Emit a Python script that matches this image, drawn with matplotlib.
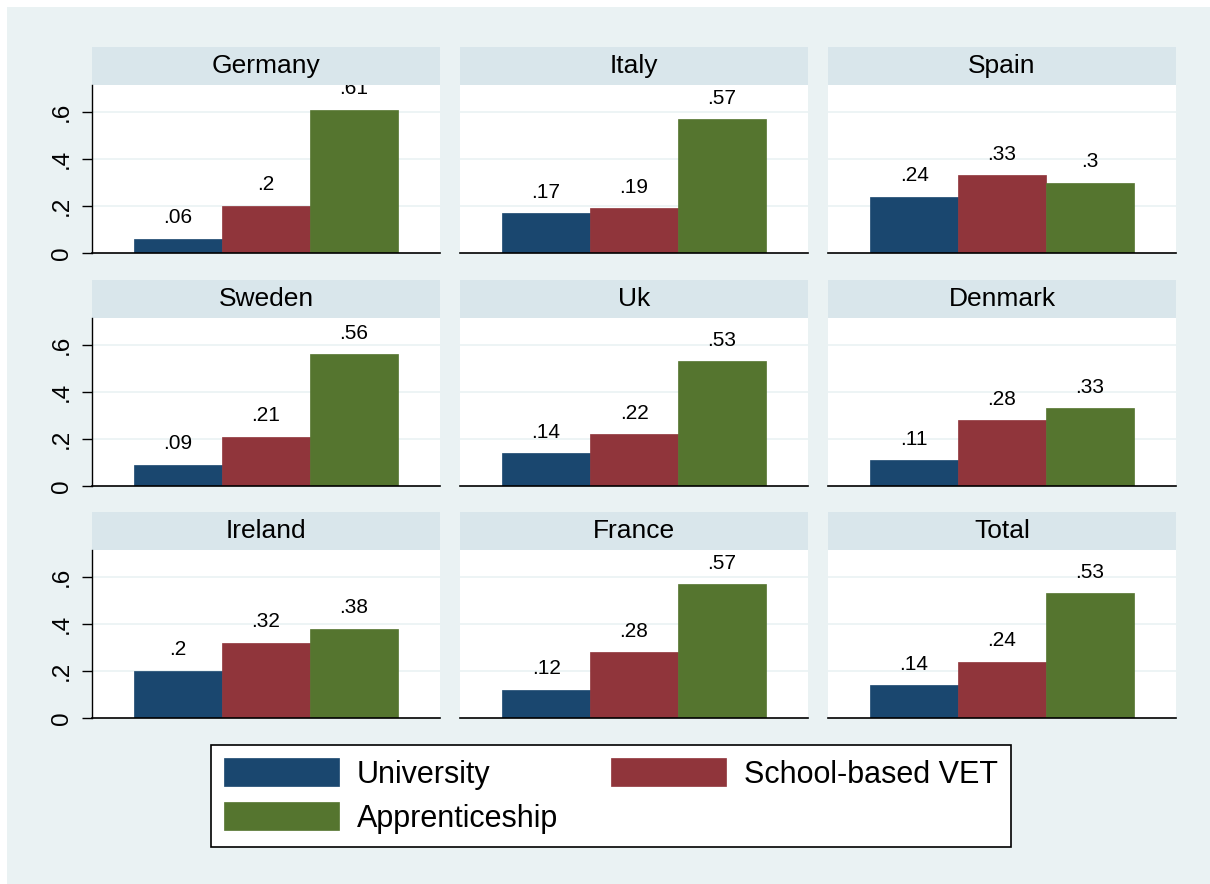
import matplotlib.pyplot as plt
from matplotlib.patches import Rectangle

plt.rcParams['font.family'] = ['Liberation Sans', 'DejaVu Sans']

countries = ["Germany", "Italy", "Spain", "Sweden", "Uk", "Denmark", "Ireland", "France", "Total"]
university = [0.06, 0.17, 0.24, 0.09, 0.14, 0.11, 0.20, 0.12, 0.14]
school_vet = [0.20, 0.19, 0.33, 0.21, 0.22, 0.28, 0.32, 0.28, 0.24]
apprenticeship = [0.61, 0.57, 0.30, 0.56, 0.53, 0.33, 0.38, 0.57, 0.53]
series_names = ["University", "School-based VET", "Apprenticeship"]
colors = ["#1a476f", "#90353b", "#55752f"]
yticks = [0, 0.2, 0.4, 0.6]
ytick_labels = ["0", ".2", ".4", ".6"]

bg = "#eaf2f3"
strip = "#d9e6eb"

fig = plt.figure(figsize=(12.1, 8.84), dpi=100)
fig.patch.set_facecolor("white")
fig.add_artist(Rectangle((7 / 1210, 0), 1, 1 - 7 / 884, transform=fig.transFigure,
                         facecolor=bg, edgecolor="none", zorder=-10))

W, H = 1210, 884
col_x = [92, 460, 828]
row_y = [85, 318, 550]
pw, ph = 348, 168


def fmt(v):
    s = ("%.2f" % v).rstrip("0").rstrip(".")
    return s.lstrip("0") if s != "0" else "0"


bars = None
for i, name in enumerate(countries):
    r, c = divmod(i, 3)
    ax = fig.add_axes([col_x[c] / W, 1 - (row_y[r] + ph) / H, pw / W, ph / H])
    ax.set_facecolor("white")
    vals = [university[i], school_vet[i], apprenticeship[i]]
    bars = ax.bar([0, 1, 2], vals, width=1.0, color=colors, edgecolor=colors, linewidth=0.5, zorder=2)
    for x, v in zip([0, 1, 2], vals):
        ax.text(x, v + 0.066, fmt(v), ha="center", va="baseline", fontsize=15, clip_on=True, zorder=3)
    ax.set_xlim(-0.98, 2.98)
    ax.set_ylim(0, 0.715)
    ax.set_yticks(yticks)
    for y in yticks[1:]:
        ax.axhline(y, color=bg, linewidth=1.2, zorder=1)
    ax.set_xticks([])
    for s in ["top", "right"]:
        ax.spines[s].set_visible(False)
    ax.spines["bottom"].set_color("black")
    ax.spines["bottom"].set_linewidth(1.2)
    if c == 0:
        ax.spines["left"].set_color("black")
        ax.spines["left"].set_linewidth(1.0)
        ax.set_yticklabels(ytick_labels, rotation=90, va="center", fontsize=17.5)
        ax.tick_params(axis="y", length=7, width=1, pad=7)
    else:
        ax.spines["left"].set_visible(False)
        ax.tick_params(axis="y", length=0, labelleft=False)
    ax.add_patch(Rectangle((0, 1), 1, 38 / ph, transform=ax.transAxes, clip_on=False,
                           facecolor=strip, edgecolor="none"))
    ax.text(0.5, 1 + 19 / ph, name, transform=ax.transAxes, ha="center", va="center", fontsize=19)

handles = [bars[0], bars[2], bars[1]]
labels = [series_names[0], series_names[2], series_names[1]]
leg = fig.legend(handles, labels, ncol=2, loc="center", bbox_to_anchor=(611 / W, 1 - 796 / H),
                 fontsize=22, frameon=True, fancybox=False, edgecolor="black", framealpha=1,
                 handlelength=3.75, handleheight=1.0, handletextpad=0.58, columnspacing=1.75,
                 labelspacing=0.42, borderpad=0.45)
leg.get_frame().set_linewidth(1.2)

fig.savefig("out.png", dpi=100, facecolor=fig.get_facecolor())
